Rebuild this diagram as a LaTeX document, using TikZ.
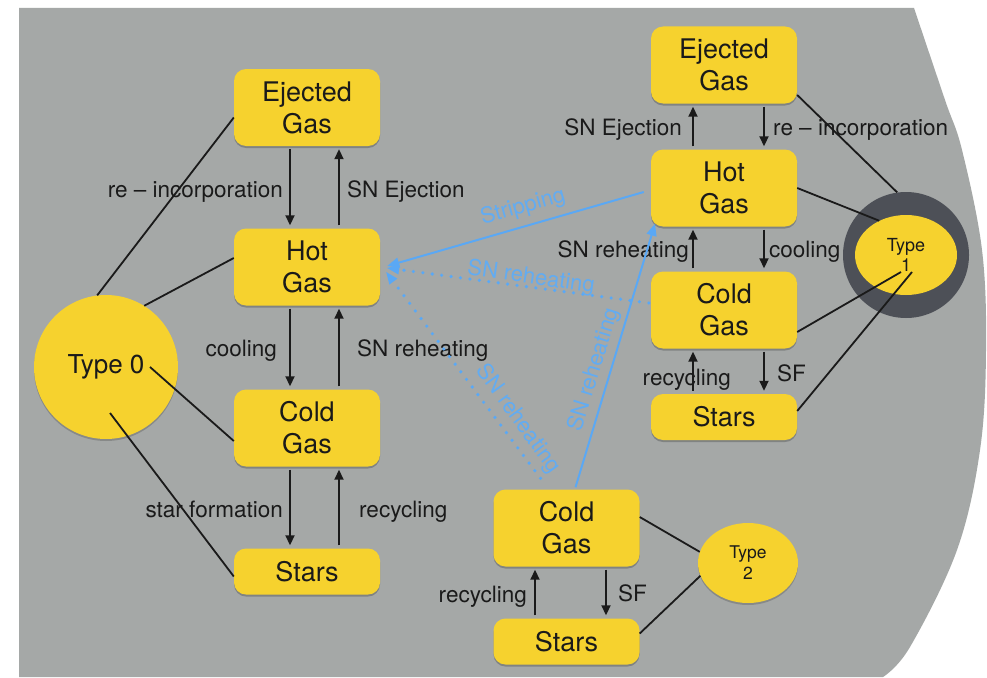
\documentclass[tikz,border=0pt]{standalone}
\usepackage{fontspec}
\setmainfont{TeX Gyre Heros}
\usetikzlibrary{arrows.meta,shapes.geometric,shadows,calc}
\definecolor{bggray}{HTML}{A5A8A7}
\definecolor{boxyellow}{HTML}{F6D22E}
\definecolor{ringgray}{HTML}{4D5057}
\definecolor{lineblue}{HTML}{5AA8F5}
\definecolor{labelblue}{HTML}{62ACF2}
\definecolor{ink}{HTML}{1A1A1A}
\begin{document}
\begin{tikzpicture}[x=1pt,y=-1pt,
  box/.style={fill=boxyellow, rounded corners=12pt, minimum width=146pt, minimum height=77pt,
    align=center, font=\fontsize{27}{32}\selectfont, text=ink, inner sep=0pt,
    drop shadow={shadow xshift=0pt, shadow yshift=-2pt, opacity=0.22, fill=black}},
  sbox/.style={box, minimum height=46pt},
  lbl/.style={font=\fontsize{22.5}{26}\selectfont, inner sep=0pt, text=ink},
  blbl/.style={font=\fontsize{22}{26}\selectfont, inner sep=0pt, text=labelblue},
  arr/.style={draw=ink, line width=1.8pt, -{Triangle[length=10pt,width=9pt]}, shorten <=3pt, shorten >=3pt},
  conn/.style={draw=ink, line width=1.8pt},
  bsolid/.style={draw=lineblue, line width=2pt, -{Triangle[length=12pt,width=10pt]}},
  bdot/.style={draw=lineblue, line width=3.6pt, dash pattern=on 0pt off 9.5pt, line cap=round,
    -{Triangle[length=12pt,width=10pt,line width=0pt]}}
]
\useasboundingbox (0,0) rectangle (987,677);
\fill[white] (0,0) rectangle (987,677);
\fill[bggray] (19,677) -- (19,8) -- plot[smooth, tension=0.6] coordinates
  {(914,8) (945,100) (962,150) (982,250) (986,350) (980,450) (957,550) (910,647) (883,677)} -- cycle;

% Type nodes
\node[circle, fill=boxyellow, minimum size=144pt, inner sep=0pt, font=\fontsize{26}{30}\selectfont, text=ink,
  drop shadow={shadow xshift=0pt, shadow yshift=-2pt, opacity=0.18, fill=black}] (t0) at (106,367) {Type 0};
\node[circle, fill=ringgray, minimum size=126pt, inner sep=0pt] (t1o) at (906,255) {};
\node[ellipse, fill=boxyellow, minimum width=102pt, minimum height=80pt, inner sep=0pt, align=center,
  font=\fontsize{18}{20}\selectfont, text=ink] (t1) at (906,255) {Type\\1};
\node[ellipse, fill=boxyellow, minimum width=100pt, minimum height=80pt, inner sep=0pt, align=center,
  font=\fontsize{17.5}{21}\selectfont, text=ink,
  drop shadow={shadow xshift=0pt, shadow yshift=-2pt, opacity=0.18, fill=black}] (t2) at (748,563) {Type\\2};

% Left column
\node[box] (ej0) at (307,107.5) {Ejected\\Gas};
\node[box] (hot0) at (307,267) {Hot\\Gas};
\node[box] (cold0) at (307,428) {Cold\\Gas};
\node[sbox] (st0) at (307,571.5) {Stars};

% Right column
\node[box] (ej1) at (724,65) {Ejected\\Gas};
\node[box] (hot1) at (724,188) {Hot\\Gas};
\node[box] (cold1) at (724,310) {Cold\\Gas};
\node[sbox] (st1) at (724,417) {Stars};

% Bottom group
\node[box] (cold2) at (566.5,528) {Cold\\Gas};
\node[sbox] (st2) at (566.5,641.5) {Stars};

% Connections to Type 0
\draw[conn] (t0.97) -- ([yshift=-10pt]ej0.west);
\draw[conn] (t0.58) -- ([yshift=9pt]hot0.west);
\draw[conn] ([xshift=44pt]t0.center) -- ([yshift=-13pt]cold0.west);
\draw[conn] ([xshift=4pt,yshift=-46pt]t0.center) -- ([yshift=-5pt]st0.west);

% Connections to Type 1
\draw[conn] ([yshift=-30pt]ej1.east) -- (t1o.98);
\draw[conn] (hot1.east) -- (t1.128);
\draw[conn] ([yshift=-22pt]cold1.east) -- ([xshift=-5pt,yshift=-17pt]t1.center);
\draw[conn] ([yshift=6pt]st1.east) -- ([xshift=6pt,yshift=-17pt]t1.center);

% Connections to Type 2
\draw[conn] ([yshift=11pt]cold2.east) -- (t2.167);
\draw[conn] ([yshift=8pt]st2.east) -- (t2.195);

% Left arrows
\draw[arr] ([xshift=-17pt]ej0.south) -- ([xshift=-17pt]hot0.north);
\draw[arr] ([xshift=32pt]hot0.north) -- ([xshift=32pt]ej0.south);
\draw[arr] ([xshift=-17pt]hot0.south) -- ([xshift=-17pt]cold0.north);
\draw[arr] ([xshift=32pt]cold0.north) -- ([xshift=32pt]hot0.south);
\draw[arr] ([xshift=-17pt]cold0.south) -- ([xshift=-17pt]st0.north);
\draw[arr] ([xshift=32pt]st0.north) -- ([xshift=32pt]cold0.south);

% Right arrows
\draw[arr] ([xshift=-31pt]hot1.north) -- ([xshift=-31pt]ej1.south);
\draw[arr] ([xshift=40pt]ej1.south) -- ([xshift=40pt]hot1.north);
\draw[arr] ([xshift=-31pt]cold1.north) -- ([xshift=-31pt]hot1.south);
\draw[arr] ([xshift=40pt]hot1.south) -- ([xshift=40pt]cold1.north);
\draw[arr] ([xshift=-31pt]st1.north) -- ([xshift=-31pt]cold1.south);
\draw[arr] ([xshift=40pt]cold1.south) -- ([xshift=40pt]st1.north);

% Bottom arrows
\draw[arr] ([xshift=-31.5pt]st2.north) -- ([xshift=-31.5pt]cold2.south);
\draw[arr] ([xshift=39.5pt]cold2.south) -- ([xshift=39.5pt]st2.north);

% Left labels
\node[lbl, anchor=base east] (l1) at (283,197) {re – incorporation};
\node[lbl, anchor=base west] (l2) at (347,197) {SN Ejection};
\node[lbl, anchor=base east] (l3) at (277,356) {cooling};
\node[lbl, anchor=base west] (l4) at (357,356) {SN reheating};
\node[lbl, anchor=base east] (l5) at (283,517) {star formation};
\node[lbl, anchor=base west] (l6) at (359,517) {recycling};

% Right labels
\node[lbl, anchor=base east] (r1) at (682,135) {SN Ejection};
\node[lbl, anchor=base west] (r2) at (773,135) {re – incorporation};
\node[lbl, anchor=base east] (r3) at (689,257) {SN reheating};
\node[lbl, anchor=base west] (r4) at (769,257) {cooling};
\node[lbl, anchor=base east] (r5) at (731,385) {recycling};
\node[lbl, anchor=base west] (r6) at (777,381) {SF};

% Bottom labels
\node[lbl, anchor=base east] (b1) at (527,602) {recycling};
\node[lbl, anchor=base west] (b2) at (618,601) {SF};

% Blue flows
\draw[bsolid] ([xshift=-7pt,yshift=-4pt]hot1.west) -- ([xshift=7pt,yshift=1pt]hot0.east);
\draw[bdot] ([xshift=-2pt,yshift=7pt]cold1.west) -- ([xshift=7pt,yshift=-1pt]hot0.east);
\draw[bdot] ([xshift=-26pt,yshift=11pt]cold2.north) -- ([xshift=6pt,yshift=-5pt]hot0.east);
\draw[bsolid] ([xshift=9pt,yshift=2pt]cold2.north) -- ([xshift=-69pt,yshift=3pt]hot1.south);

\node[blbl, rotate=16] (bl1) at (523,207) {Stripping};
\node[blbl, rotate=-8] (bl2) at (531,278) {SN reheating};
\node[blbl, rotate=-54] (bl3) at (518,419) {SN reheating};
\node[blbl, rotate=73] (bl4) at (594,370) {SN reheating};
\end{tikzpicture}
\end{document}
